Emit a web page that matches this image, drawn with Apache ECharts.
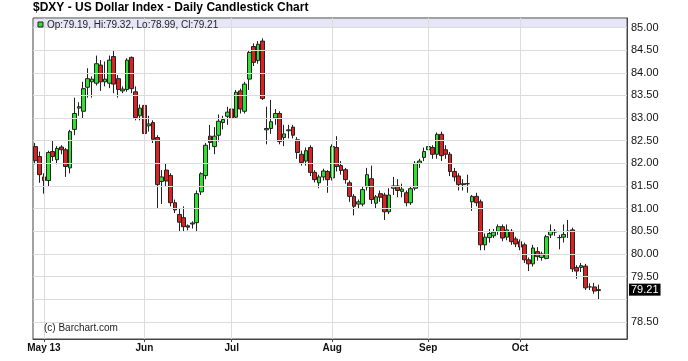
<!DOCTYPE html>
<html><head><meta charset="utf-8">
<script src="https://cdn.jsdelivr.net/npm/echarts@6/dist/echarts.min.js"></script>
<style>html,body{margin:0;padding:0;background:#fff}#c{width:688px;height:361px}</style>
</head><body><div id="c"></div><script>
const dates = ['2013-04-29','2013-04-30',
'2013-05-01','2013-05-02','2013-05-03','2013-05-06','2013-05-07','2013-05-08','2013-05-09','2013-05-10','2013-05-13','2013-05-14','2013-05-15','2013-05-16','2013-05-17','2013-05-20','2013-05-21','2013-05-22','2013-05-23','2013-05-24','2013-05-27','2013-05-28','2013-05-29','2013-05-30','2013-05-31',
'2013-06-03','2013-06-04','2013-06-05','2013-06-06','2013-06-07','2013-06-10','2013-06-11','2013-06-12','2013-06-13','2013-06-14','2013-06-17','2013-06-18','2013-06-19','2013-06-20','2013-06-21','2013-06-24','2013-06-25','2013-06-26','2013-06-27','2013-06-28',
'2013-07-01','2013-07-02','2013-07-03','2013-07-04','2013-07-05','2013-07-08','2013-07-09','2013-07-10','2013-07-11','2013-07-12','2013-07-15','2013-07-16','2013-07-17','2013-07-18','2013-07-19','2013-07-22','2013-07-23','2013-07-24','2013-07-25','2013-07-26','2013-07-29','2013-07-30','2013-07-31',
'2013-08-01','2013-08-02','2013-08-05','2013-08-06','2013-08-07','2013-08-08','2013-08-09','2013-08-12','2013-08-13','2013-08-14','2013-08-15','2013-08-16','2013-08-19','2013-08-20','2013-08-21','2013-08-22','2013-08-23','2013-08-26','2013-08-27','2013-08-28','2013-08-29','2013-08-30',
'2013-09-02','2013-09-03','2013-09-04','2013-09-05','2013-09-06','2013-09-09','2013-09-10','2013-09-11','2013-09-12','2013-09-13','2013-09-16','2013-09-17','2013-09-18','2013-09-19','2013-09-20','2013-09-23','2013-09-24','2013-09-25','2013-09-26','2013-09-27','2013-09-30',
'2013-10-01','2013-10-02','2013-10-03','2013-10-04','2013-10-07','2013-10-08','2013-10-09','2013-10-10','2013-10-11','2013-10-14','2013-10-15','2013-10-16','2013-10-17','2013-10-18','2013-10-21','2013-10-22','2013-10-23','2013-10-24','2013-10-25'];
const padDates = ['2013-10-28','2013-10-29','2013-10-30','2013-10-31','2013-11-01','2013-11-04'];

const opens = [82.37,82.15,81.70,81.62,82.26,82.08,82.36,82.30,81.90,82.75,
83.22,83.15,83.68,83.80,83.77,84.17,83.80,83.77,84.36,83.87,
83.60,83.63,84.34,83.58,83.05,83.28,82.83,82.90,82.57,81.60,
81.85,81.73,81.13,80.87,80.80,80.62,80.66,80.69,81.37,81.73,
82.60,82.37,82.62,82.90,83.04,83.20,83.02,83.60,83.15,83.86,
84.58,84.27,84.70,82.74,82.77,83.00,83.10,82.57,82.72,82.80,
82.52,82.20,82.05,82.35,81.80,81.57,81.70,81.82,81.68,82.35,
81.95,81.86,81.57,81.27,81.10,81.10,81.48,81.66,81.12,81.33,
81.30,80.93,81.45,81.50,81.38,81.35,81.13,81.45,82.00,82.13,
82.30,82.35,82.20,82.64,82.30,82.20,81.82,81.72,81.53,81.55,
81.15,81.27,81.15,80.20,80.36,80.40,80.50,80.60,80.37,80.50,
80.33,80.27,80.20,79.87,79.78,80.05,79.92,79.90,80.42,80.50,
80.36,80.37,80.50,80.53,79.70,79.70,79.73,79.27,79.27,79.19];
const closes = [82.06,81.75,81.62,82.24,82.15,82.33,82.30,81.93,82.70,83.10,
83.25,83.65,83.87,83.86,84.20,83.80,83.86,84.28,83.75,83.63,
83.64,84.28,83.65,83.01,83.22,82.66,82.87,82.53,81.53,81.70,
81.61,81.13,80.97,80.70,80.60,80.59,80.68,81.33,81.77,82.40,
82.46,82.60,82.93,82.97,83.13,83.00,83.57,83.20,83.75,84.45,
84.23,84.63,83.43,82.77,82.92,83.10,82.48,82.65,82.74,82.62,
82.24,82.02,82.28,81.80,81.64,81.70,81.83,81.64,82.37,81.93,
81.84,81.64,81.27,81.05,81.15,81.42,81.75,81.20,81.26,81.25,
80.93,81.30,81.50,81.40,81.43,81.13,81.44,82.00,82.05,82.26,
82.37,82.20,82.64,82.17,82.20,81.82,81.70,81.53,81.55,81.55,
81.27,81.13,80.20,80.37,80.45,80.48,80.60,80.35,80.53,80.27,
80.22,80.15,79.87,79.78,80.13,79.94,80.00,80.38,80.50,80.48,
80.36,80.43,80.50,79.67,79.62,79.74,79.25,79.27,79.18,79.21];
const lows = [81.98,81.57,81.33,81.50,82.05,81.98,82.20,81.70,81.78,82.62,
83.05,83.00,83.45,83.45,83.72,83.60,83.70,83.66,83.55,83.45,
83.55,83.58,83.55,82.95,82.95,82.42,82.70,82.45,81.00,81.10,
81.50,81.05,80.90,80.50,80.50,80.52,80.56,80.50,81.30,81.65,
82.30,82.20,82.48,82.75,82.85,82.90,82.98,83.10,83.10,83.62,
84.15,84.20,83.40,82.42,82.65,82.85,82.42,82.38,82.55,82.55,
82.10,81.95,81.95,81.72,81.58,81.45,81.62,81.35,81.62,81.82,
81.75,81.55,81.15,80.85,81.00,81.05,81.40,81.10,81.00,81.15,
80.75,80.88,81.30,81.25,81.25,81.05,81.08,81.40,81.90,82.05,
82.20,82.10,82.10,82.05,82.10,81.72,81.60,81.40,81.40,81.35,
80.95,81.05,80.08,80.08,80.25,80.35,80.42,80.28,80.30,80.20,
80.15,80.08,79.80,79.62,79.72,79.85,79.85,79.88,80.35,80.40,
80.10,80.25,80.35,79.60,79.45,79.60,79.20,79.20,79.12,78.99];
const highs = [82.45,82.26,81.78,82.28,82.50,82.38,82.40,82.34,82.74,83.45,
83.35,83.80,84.10,83.92,84.38,84.28,84.25,84.38,84.50,83.95,
83.70,84.32,84.36,83.70,83.30,83.32,83.05,82.95,82.62,81.85,
82.00,81.78,81.20,81.00,81.05,80.65,80.72,81.40,81.80,82.45,
82.85,82.80,83.08,83.05,83.25,83.28,83.62,83.65,83.80,84.50,
84.65,84.70,84.76,83.25,83.40,83.20,83.15,82.85,82.85,82.85,
82.58,82.28,82.35,82.40,81.85,81.75,81.88,81.85,82.42,82.60,
82.05,81.90,81.62,81.32,81.20,81.48,81.90,81.95,81.30,81.40,
81.35,81.45,81.70,81.65,81.55,81.40,81.50,82.05,82.10,82.35,
82.50,82.40,82.68,82.70,82.40,82.25,81.90,81.78,81.65,81.75,
81.30,81.35,81.20,80.45,80.55,80.55,80.65,80.65,80.65,80.55,
80.38,80.32,80.25,79.92,80.20,80.15,80.05,80.42,80.65,80.55,
80.42,80.65,80.75,80.58,79.75,79.80,79.78,79.35,79.36,79.32];

const monthTicks = ['2013-05-01','2013-06-03','2013-07-01','2013-08-01','2013-09-02','2013-10-01'];
const monthLabels = ['May 13','Jun','Jul','Aug','Sep','Oct'];
const yTicks = [78.5,79,79.5,80,80.5,81,81.5,82,82.5,83,83.5,84,84.5,85];
const yLabels = [78.5,79.5,80,80.5,81,81.5,82,82.5,83,83.5,84,84.5,85];

const cats = dates.concat(padDates);
const candles = dates.map((d,i)=>[opens[i],closes[i],lows[i],highs[i]]);
const last = dates.length-1;
const FONT = "'Liberation Sans', Arial, sans-serif";
const NARROW = "'Liberation Sans Narrow', 'Arial Narrow', 'Liberation Sans', sans-serif";
const isMonth = (i, v) => monthTicks.indexOf(cats[i]) >= 0;

const chart = echarts.init(document.getElementById('c'), null, {renderer:'canvas'});
chart.setOption({
  animation:false,
  backgroundColor:'#fff',
  title:{text:'$DXY - US Dollar Index - Daily Candlestick Chart', left:33, top:2, padding:0,
    textStyle:{fontFamily:FONT, fontSize:12, fontWeight:'bold', color:'#000'}},
  grid:{left:33, right:61, top:18, bottom:22, show:true, borderColor:'#444', borderWidth:1, backgroundColor:'#fff'},
  xAxis:{type:'category', data:cats, boundaryGap:true,
    axisLine:{show:true, lineStyle:{color:'#444'}},
    axisTick:{show:true, alignWithLabel:true, interval:isMonth, length:3, lineStyle:{color:'#444'}},
    axisLabel:{interval:isMonth, formatter:v=>monthLabels[monthTicks.indexOf(v)], fontFamily:FONT,
      fontSize:10, fontWeight:'bold', color:'#111', margin:4},
    splitLine:{show:false}},
  yAxis:{type:'value', position:'right', min:78.12, max:85.21, scale:true,
    axisLine:{show:true, lineStyle:{color:'#444'}},
    axisTick:{show:true, inside:true, length:4, customValues:yTicks, lineStyle:{color:'#444'}},
    axisLabel:{customValues:yLabels, formatter:v=>v.toFixed(2), fontFamily:NARROW, fontSize:11, color:'#111', margin:4},
    splitLine:{show:false}},
  graphic:[
    {type:'rect', shape:{x:34, y:19, width:592, height:9}, style:{fill:'#e6e6f8'}, z:0, silent:true},
    {type:'rect', shape:{x:38, y:22, width:5, height:5}, style:{fill:'#33dd33', stroke:'#222', lineWidth:1}, z:10},
    {type:'text', x:47, y:25, style:{text:'Op:'+opens[last].toFixed(2)+', Hi:'+highs[last].toFixed(2)+', Lo:'+lows[last].toFixed(2)+', Cl:'+closes[last].toFixed(2),
      font:'10px '+FONT, fill:'#222', verticalAlign:'middle'}, z:10},
    {type:'text', x:44, y:328, style:{text:'(c) Barchart.com', font:'10px '+FONT, fill:'#222', verticalAlign:'middle'}, z:10}
  ],
  series:[
    {type:'line', data:[], silent:true, z:1,
      markLine:{silent:true, symbol:['none','none'], label:{show:false}, animation:false,
        lineStyle:{color:'#dcdcdc', width:1, type:'solid'},
        emphasis:{disabled:true},
        data:yTicks.map(v=>({yAxis:v})).concat(monthTicks.map(d=>({xAxis:cats.indexOf(d)})))}},
    {type:'candlestick', data:candles, barWidth:4.2, z:3,
      itemStyle:{color:'#2fe02f', color0:'#dd2020', borderColor:'#222', borderColor0:'#222', borderWidth:1},
      markLine:{silent:true, symbol:['none','none'], animation:false,
        lineStyle:{color:'rgba(0,0,0,0)', width:1}, emphasis:{disabled:true},
        label:{show:true, position:'end', distance:2, formatter:p=>Number(p.value).toFixed(2), backgroundColor:'#000',
          color:'#fff', padding:[1,2,0,2], fontFamily:NARROW, fontSize:11, opacity:1},
        data:[{yAxis:closes[last]}]}}
  ]
});
</script></body></html>
